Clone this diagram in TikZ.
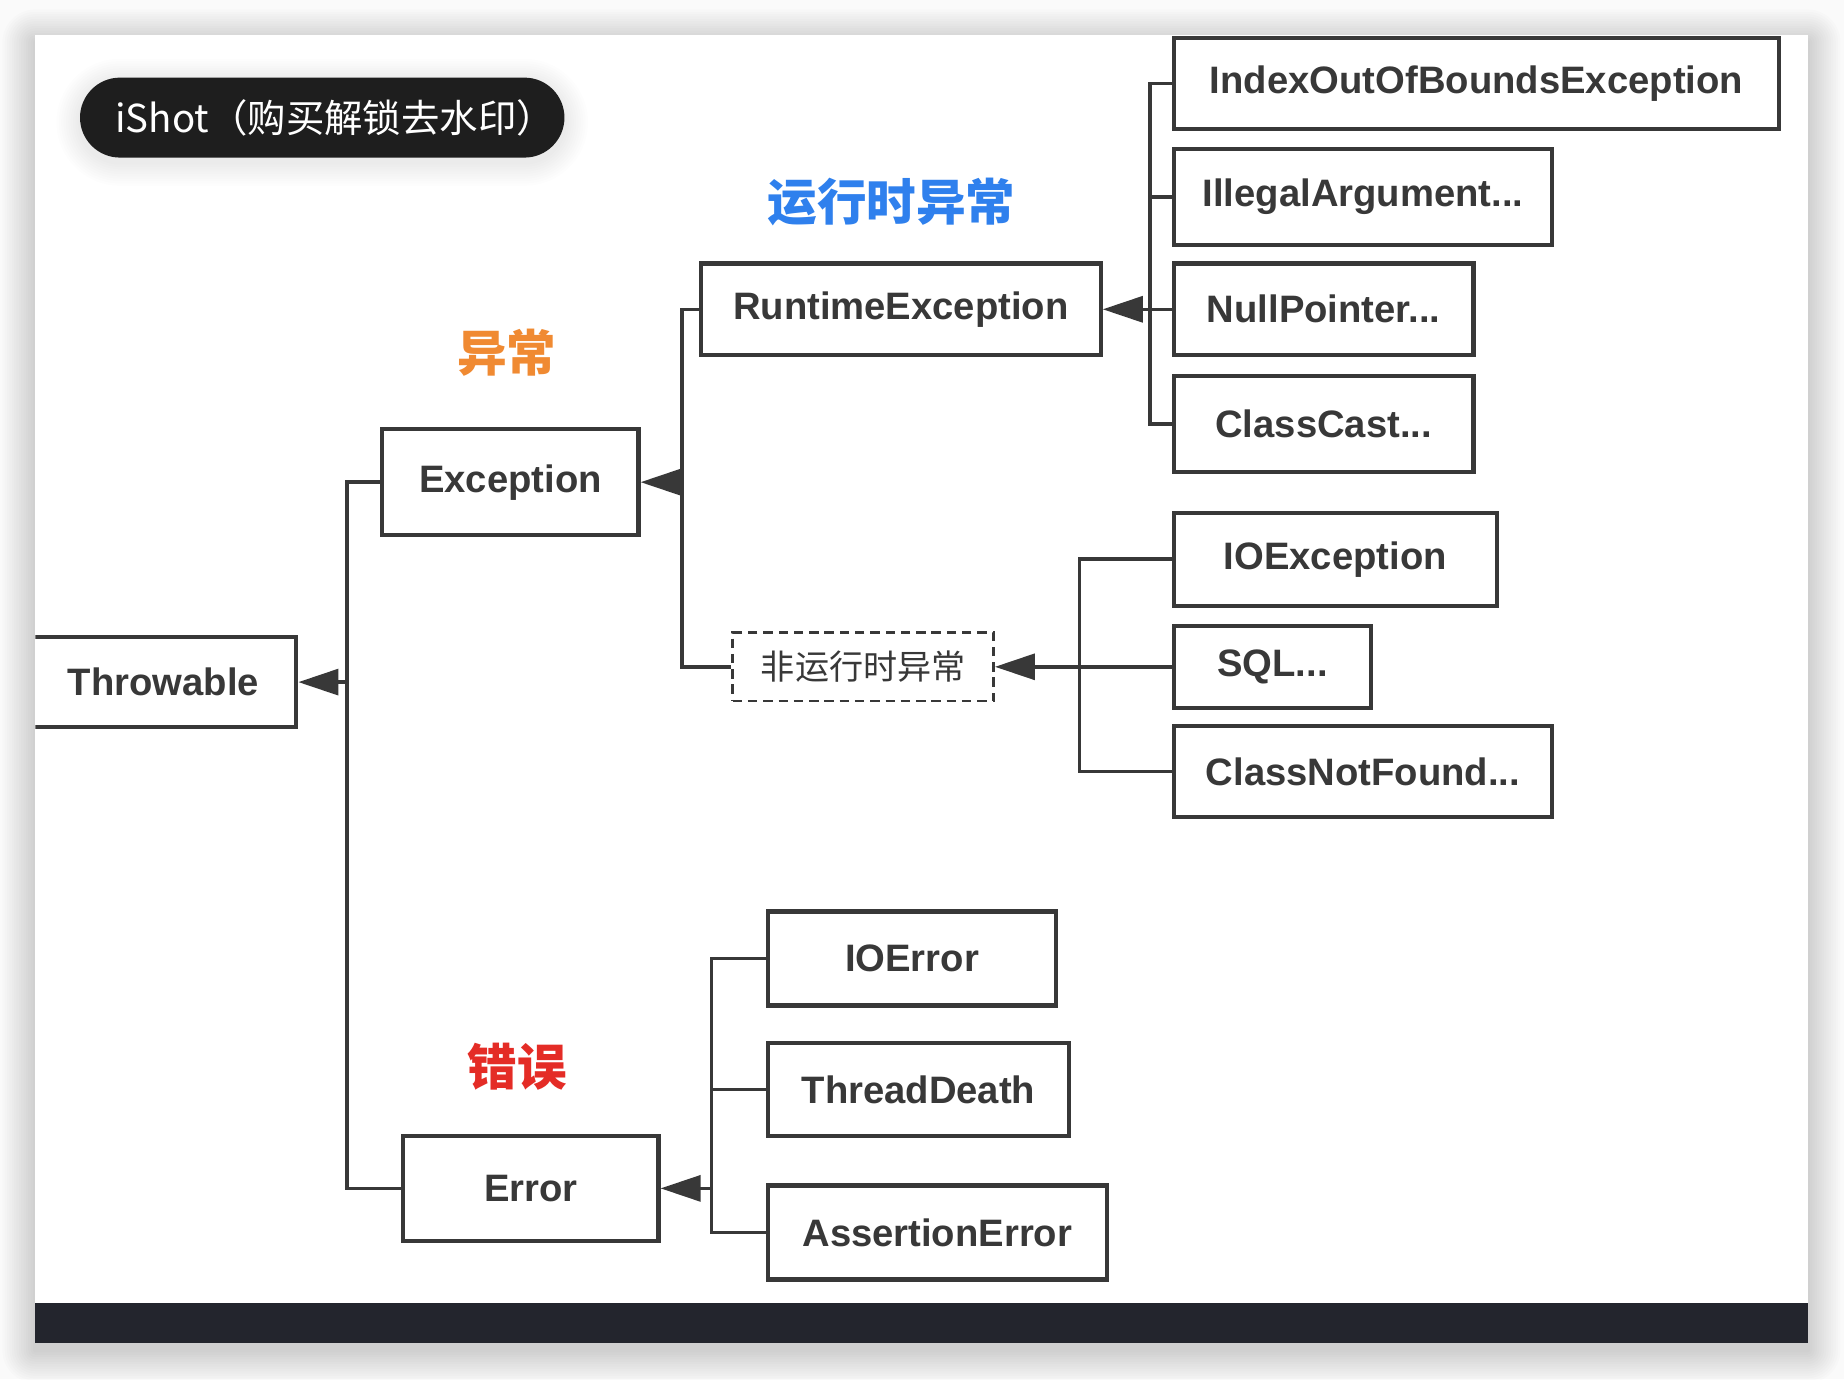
\documentclass[tikz,border=0pt]{standalone}
\usepackage{fontspec}
\setmainfont{Liberation Sans}
\newfontfamily\cjk{Noto Sans CJK SC}
\usepackage{tikz}
\usetikzlibrary{arrows.meta}

\definecolor{linegray}{RGB}{56,56,56}
\definecolor{bluelbl}{RGB}{47,128,237}
\definecolor{orangelbl}{RGB}{240,138,50}
\definecolor{redlbl}{RGB}{228,44,38}
\definecolor{barcol}{RGB}{35,37,45}
\definecolor{pillcol}{RGB}{30,30,30}
\definecolor{pagegray}{RGB}{250,250,250}

\tikzset{
  cls/.style={draw=linegray, line width=2pt, fill=white, inner sep=0pt,
    font=\fontsize{18.5}{20}\selectfont\bfseries, text=linegray},
  wire/.style={draw=linegray, line width=1.7pt},
  inherit/.style={wire, -{Triangle[length=0.68cm,width=0.44cm]}},
  tag/.style={font=\cjk\fontsize{24}{26}\selectfont\bfseries}
}

\begin{document}
\begin{tikzpicture}[x=0.02cm,y=-0.02cm]
\useasboundingbox (0,0) rectangle (1568,1173);
\fill [pagegray] (0,0) rectangle (1568,1173);

% soft shadow of the card
\foreach \d in {1,...,14}
  \fill [black, opacity=0.011, rounded corners=2*\d*0.02cm]
    (30-2*\d,30-2*\d+6) rectangle (1537+2*\d,1142+2*\d+6);

% card and bottom bar
\fill [white] (30,30) rectangle (1537,1142);
\fill [barcol] (30,1108) rectangle (1537,1142);

% watermark pill
\foreach \d in {1,...,10}
  \fill [black, opacity=0.009, rounded corners=(34+2*\d)*0.02cm]
    (68-2*\d,66-2*\d+4) rectangle (480+2*\d,134+2*\d+4);
\node [fill=pillcol, rounded corners=0.68cm, minimum width=8.24cm, minimum height=1.36cm, inner sep=0pt] (wm) at (274,100) {};
\node [text=white, font=\cjk\fontsize{18.6}{20}\selectfont] (wmtxt) at (285,100) {iShot（购买解锁去水印）};

\begin{scope}
\clip (30,30) rectangle (1537,1108);

% class boxes
\node [cls, minimum width=4.52cm, minimum height=1.52cm] (thr) at (139,580) {Throwable};
\node [cls, minimum width=4.36cm, minimum height=1.80cm] (exc) at (434,410) {Exception};
\node [cls, minimum width=4.34cm, minimum height=1.78cm] (err) at (451.5,1010.5) {Error};

\node [cls, minimum width=6.80cm, minimum height=1.56cm] (rte) at (766,263) {RuntimeException};
\node [cls, dash pattern=on 0.16cm off 0.1cm, line width=1.2pt, minimum width=4.44cm, minimum height=1.16cm,
  font=\cjk\fontsize{16.5}{18}\selectfont] (nrt) at (734,567) {非运行时异常};

\node [cls, minimum width=10.30cm, minimum height=1.56cm] (idx) at (1255.5,71) {IndexOutOfBoundsException};
\node [cls, minimum width=6.44cm, minimum height=1.62cm] (ill) at (1159,167.5) {IllegalArgument...};
\node [cls, minimum width=5.10cm, minimum height=1.56cm] (nul) at (1125.5,263) {NullPointer...};
\node [cls, minimum width=5.10cm, minimum height=1.62cm] (ccs) at (1125.5,360.5) {ClassCast...};

\node [cls, minimum width=5.50cm, minimum height=1.58cm] (ioe) at (1135.5,475.5) {IOException};
\node [cls, minimum width=3.36cm, minimum height=1.40cm] (sql) at (1082,567) {SQL...};
\node [cls, minimum width=6.44cm, minimum height=1.56cm] (cnf) at (1159,656) {ClassNotFound...};

\node [cls, minimum width=4.90cm, minimum height=1.60cm] (ioerr) at (775.5,815) {IOError};
\node [cls, minimum width=5.12cm, minimum height=1.58cm] (thd) at (781,926.5) {ThreadDeath};
\node [cls, minimum width=5.76cm, minimum height=1.60cm] (ase) at (797,1048) {AssertionError};

% buses
\coordinate (bthr) at (295,580);
\coordinate (bexc) at (580,410);
\coordinate (brte) at (978,263);
\coordinate (bnrt) at (918,567);
\coordinate (berr) at (605,1010.5);

\draw [wire] (exc.west) -| (bthr) |- (err.west);
\draw [inherit] (bthr) -- (thr.east);

\draw [wire] (rte.west) -| (bexc) |- (nrt.west);
\draw [inherit] (bexc) -- (exc.east);

\draw [wire] (idx.west) -| (brte) |- (ccs.west);
\draw [wire] (ill.west) -| (brte);
\draw [wire] (nul.west) -- (brte);
\draw [inherit] (brte) -- (rte.east);

\draw [wire] (ioe.west) -| (bnrt) |- (cnf.west);
\draw [inherit] (sql.west) -- (nrt.east);

\draw [wire] (ioerr.west) -| (berr) |- (ase.west);
\draw [wire] (thd.west) -| (berr);
\draw [inherit] (berr) -- (err.east);

% category labels
\node [tag, text=bluelbl] (lrun) at (758,172) {运行时异常};
\node [tag, text=orangelbl] (lexc) at (431,300) {异常};
\node [tag, text=redlbl] (lerr) at (440,907) {错误};
\end{scope}

\end{tikzpicture}
\end{document}
